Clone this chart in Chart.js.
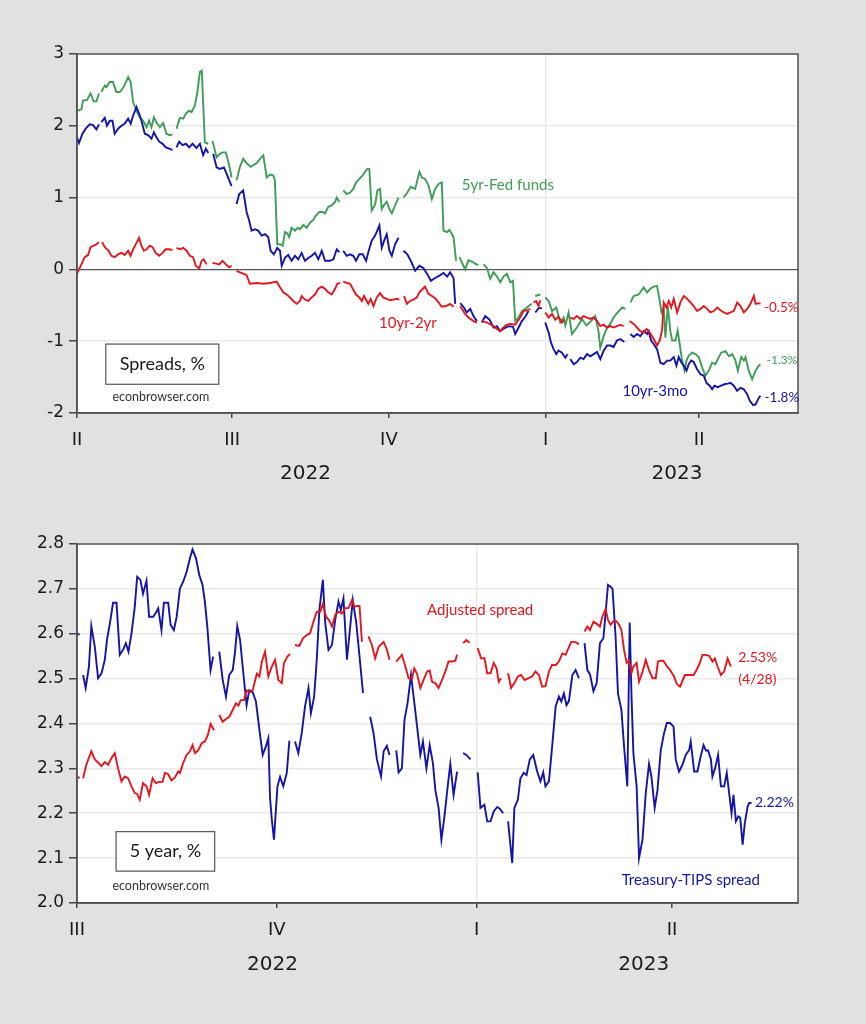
<!DOCTYPE html>
<html><head><meta charset="utf-8">
<script src="https://cdn.jsdelivr.net/npm/chart.js@4.4.0/dist/chart.umd.min.js"></script>
<style>
html,body{margin:0;padding:0;background:#e1e1e1;}
#wrap{position:relative;width:866px;height:1024px;overflow:hidden;background:#e1e1e1;}
canvas{position:absolute;left:0;}
#c1{top:0;} #c2{top:500px;}
</style></head><body>
<div id="wrap"><canvas id="c1" width="866" height="500"></canvas><canvas id="c2" width="866" height="524"></canvas></div>
<script>
// ---------- DATA ----------
// Top panel: x = days since 2022-04-01
const topQuarterDays = [0, 91, 183, 275, 365];
const topQuarterLabels = ['II', 'III', 'IV', 'I', 'II'];
const topYearBoundary = 275;
const topYearLabels = ['2022', '2023'];
const topYearCenters = [134, 352];
const topYTicks = [3, 2, 1, 0, -1, -2];

const spread10y2y = [[0,-0.06],[2.6,0.07],[4.5,0.17],[6.5,0.20],[7.9,0.31],[9.8,0.33],[11.4,0.35],[12.9,0.38],[13.8,null],[14.7,0.38],[16.3,0.31],[18.2,0.27],[20.2,0.19],[22.1,0.17],[24.1,0.21],[26.1,0.23],[28.0,0.20],[30.0,0.26],[31.4,0.19],[32.9,0.28],[34.9,0.37],[36.4,0.44],[37.8,0.33],[39.2,0.26],[40.8,0.28],[42.7,0.33],[44.3,0.31],[46.2,0.23],[48.2,0.19],[50.2,0.23],[52.1,0.28],[54.0,0.28],[56.0,0.27],[57.2,null],[58.4,0.30],[60.3,0.28],[62.3,0.30],[64.3,0.26],[66.2,0.19],[68.1,0.17],[69.7,0.05],[71.7,0.01],[73.1,0.12],[74.4,0.14],[76.0,0.07],[77.8,null],[79.5,0.09],[81.5,0.08],[83.4,0.07],[85.4,0.12],[87.3,0.07],[89.3,0.03],[90.7,0.05],[92.1,null],[93.6,-0.02],[95.6,-0.04],[97.5,-0.06],[99.5,-0.08],[101.4,-0.20],[105.4,-0.19],[109.3,-0.20],[113.2,-0.19],[117.1,-0.17],[119.1,-0.25],[121.0,-0.32],[123.0,-0.35],[124.9,-0.39],[126.9,-0.44],[128.9,-0.48],[130.8,-0.44],[131.8,-0.37],[133.7,-0.42],[135.7,-0.44],[137.7,-0.39],[139.6,-0.35],[141.6,-0.27],[143.6,-0.24],[145.5,-0.27],[147.4,-0.32],[149.4,-0.35],[151.4,-0.27],[152.7,-0.20],[154.3,-0.19],[155.2,null],[156.2,-0.17],[158.6,-0.19],[160.2,-0.20],[161.8,-0.27],[163.7,-0.35],[165.6,-0.39],[167.1,-0.44],[168.4,-0.37],[170.0,-0.44],[170.9,-0.48],[172.3,-0.41],[173.9,-0.51],[175.9,-0.39],[177.8,-0.33],[179.7,-0.39],[181.7,-0.41],[183.7,-0.43],[185.6,-0.42],[187.6,-0.41],[189.1,-0.42],[190.5,null],[191.9,-0.37],[193.5,-0.48],[195.4,-0.44],[197.4,-0.42],[199.4,-0.39],[200.9,-0.32],[202.9,-0.27],[204.2,-0.24],[206.2,-0.34],[208.2,-0.37],[210.1,-0.40],[212.1,-0.46],[214.0,-0.52],[216.6,-0.51],[218.9,-0.48],[220.9,-0.52],[222.8,null],[224.8,-0.51],[227.7,-0.62],[229.7,-0.67],[232.6,-0.72],[234.6,-0.74],[236,null],[237.5,-0.72],[240.5,-0.74],[244.4,-0.79],[246.4,-0.83],[248.3,-0.86],[250.2,-0.81],[252.2,-0.77],[254.2,-0.76],[257.1,-0.77],[260.0,-0.67],[262.0,-0.58],[264.0,-0.57],[265.9,-0.55],[266.9,null],[267.9,-0.46],[269.4,-0.44],[270.8,-0.51],[271.8,-0.43],[273.2,null],[274.7,-0.60],[276.7,-0.67],[278.7,-0.62],[280.6,-0.70],[282.5,-0.66],[284.5,-0.74],[285.9,-0.70],[287.6,null],[289.4,-0.67],[291.4,-0.69],[293.3,-0.65],[295.3,-0.69],[297.2,-0.65],[299.2,-0.67],[301.2,-0.69],[303.1,-0.67],[305.1,-0.72],[307.0,-0.79],[309.0,-0.77],[311.0,-0.81],[312.9,-0.79],[314.8,-0.81],[316.8,-0.79],[318.8,-0.77],[320.7,-0.79],[322.5,null],[324.2,-0.72],[326.6,-0.76],[328.6,-0.81],[330.5,-0.86],[332.5,-0.88],[334.1,-0.83],[335.4,-0.86],[337.4,-0.93],[338.8,-0.99],[340.3,-1.06],[341.9,-0.99],[343.3,-0.84],[344.2,-0.46],[345.8,-0.53],[347.2,-0.44],[348.6,-0.53],[350.1,-0.41],[352.1,-0.60],[354.0,-0.46],[356.0,-0.37],[358.0,-0.41],[359.9,-0.46],[361.8,-0.51],[363.8,-0.58],[365.8,-0.55],[367.7,-0.51],[369.7,-0.55],[371.6,-0.60],[373.6,-0.58],[375.6,-0.53],[377.5,-0.57],[379.5,-0.60],[381.5,-0.62],[383.4,-0.60],[385.3,-0.58],[387.3,-0.46],[389.3,-0.51],[391.2,-0.60],[393.2,-0.55],[395.1,-0.48],[397.1,-0.37],[398.1,-0.48],[400.0,-0.47],[401.0,-0.48]];

const spread10y3m = [[0,1.84],[1.2,1.76],[3.2,1.89],[5.1,1.96],[7.5,2.02],[9.4,2.01],[11.4,1.95],[12.9,2.02],[13.6,null],[14.3,2.05],[16.3,2.11],[17.6,2.00],[19.2,2.07],[20.8,2.07],[22.1,1.89],[24.1,1.96],[26.1,2.00],[28.0,2.03],[30.0,2.10],[31.5,2.03],[32.9,2.14],[34.9,2.26],[36.4,2.17],[37.8,2.07],[39.8,1.89],[41.7,1.87],[43.7,1.82],[45.1,1.91],[46.6,1.84],[48.2,1.78],[50.2,1.75],[52.1,1.70],[54.5,1.68],[56.0,1.66],[57.2,null],[58.4,1.70],[59.9,1.78],[61.9,1.73],[63.9,1.75],[65.8,1.70],[67.8,1.75],[70.1,1.69],[72.1,1.75],[74.0,1.59],[75.6,1.68],[77.0,1.62],[78.4,null],[79.9,1.61],[81.9,1.42],[83.8,1.40],[86.2,1.42],[87.8,1.33],[89.3,1.24],[90.7,1.16],[92.1,null],[93.6,0.91],[95.2,1.05],[97.5,1.10],[99.5,0.80],[101.0,0.68],[102.4,0.54],[104.4,0.56],[106.3,0.54],[108.3,0.47],[110.3,0.49],[112.2,0.45],[113.6,0.26],[115.5,0.21],[117.5,0.30],[119.1,0.26],[120.1,0.05],[122.0,0.16],[123.9,0.20],[125.9,0.12],[127.9,0.19],[129.8,0.14],[131.8,0.23],[133.7,0.12],[135.7,0.16],[137.7,0.19],[139.6,0.23],[141.6,0.14],[143.6,0.26],[145.5,0.12],[148.4,0.12],[150.4,0.14],[152.4,0.28],[153.9,0.24],[155,null],[156.2,0.26],[158.2,0.19],[160.2,0.21],[162.1,0.19],[163.7,0.12],[165.6,0.21],[167.6,0.21],[169.6,0.12],[170.9,0.24],[172.9,0.40],[174.9,0.47],[177.4,0.61],[178.8,0.30],[180.2,0.40],[181.7,0.49],[183.3,0.26],[184.7,0.19],[186.6,0.35],[188.6,0.44],[190,null],[191.5,0.26],[193.8,0.21],[195.8,0.12],[198.4,-0.02],[200.9,0.05],[203.2,0.02],[205.6,-0.07],[207.6,-0.16],[210.1,-0.12],[213.1,-0.08],[215.0,-0.05],[217.2,-0.10],[218.9,-0.04],[220.9,-0.12],[221.9,-0.48],[223.4,null],[224.8,-0.47],[226.7,-0.52],[228.7,-0.60],[230.7,-0.55],[232.6,-0.65],[234.6,-0.72],[236,null],[237.5,-0.74],[239.5,-0.65],[242.0,-0.70],[244.4,-0.81],[246.4,-0.79],[248.3,-0.86],[250.6,-0.82],[253.2,-0.79],[255.8,-0.80],[257.1,-0.90],[259.1,-0.81],[261.0,-0.72],[263.0,-0.66],[264.9,-0.58],[267,null],[268.9,-0.60],[270.8,-0.54],[272.8,-0.54],[273.8,null],[274.7,-0.74],[276.7,-0.88],[278.1,-1.02],[279.6,-1.11],[281.2,-1.18],[282.5,-1.13],[284.5,-1.16],[286.5,-1.23],[287.8,-1.18],[288.6,null],[289.4,-1.25],[291.4,-1.32],[293.3,-1.29],[295.3,-1.23],[297.2,-1.25],[299.2,-1.18],[301.2,-1.21],[303.1,-1.18],[305.1,-1.15],[307.0,-1.25],[309.0,-1.13],[311.0,-1.06],[312.9,-1.06],[314.8,-1.08],[316.8,-0.99],[318.8,-0.97],[321.1,-1.01],[323,null],[324.7,-0.90],[326.6,-0.94],[328.6,-0.90],[330.5,-0.93],[332.5,-0.86],[334.5,-0.90],[335.4,-0.86],[336.8,-0.99],[338.3,-1.04],[340.3,-1.11],[342.3,-1.30],[344.2,-1.32],[346.2,-1.27],[348.1,-1.27],[350.1,-1.22],[351.7,-1.34],[353.0,-1.22],[354.4,-1.29],[356.0,-1.34],[357.6,-1.41],[358.9,-1.32],[360.3,-1.27],[361.8,-1.29],[363.8,-1.39],[365.8,-1.46],[367.7,-1.48],[369.3,-1.58],[371.2,-1.62],[372.6,-1.67],[374.0,-1.62],[375.9,-1.64],[377.9,-1.62],[379.9,-1.60],[381.8,-1.59],[383.4,-1.58],[385.3,-1.62],[387.3,-1.69],[389.3,-1.65],[391.2,-1.67],[393.2,-1.74],[394.7,-1.83],[396.7,-1.89],[398.1,-1.88],[400.0,-1.79],[401.0,-1.76]];

const spread5yFedFunds = [[0,2.21],[2.6,2.23],[3.5,2.35],[5.9,2.36],[7.9,2.45],[9.8,2.34],[11.4,2.34],[12.9,2.45],[13.6,null],[14.3,2.47],[16.3,2.56],[17.3,2.54],[19.2,2.61],[21.1,2.61],[23.1,2.47],[25.1,2.47],[27.4,2.54],[30.0,2.68],[31.5,2.61],[32.9,2.33],[34.9,2.21],[36.8,2.12],[38.8,2.07],[40.8,1.98],[42.3,2.07],[43.7,1.98],[45.1,2.12],[46.6,2.05],[48.6,1.98],[50.5,2.04],[52.5,1.89],[54.5,1.87],[56.0,1.88],[57.2,null],[58.4,1.96],[60.3,2.11],[62.3,2.10],[63.9,2.17],[65.8,2.21],[67.2,2.19],[69.1,2.28],[70.5,2.45],[72.1,2.75],[73.2,2.77],[75.0,1.77],[77.0,1.75],[78.2,null],[79.5,1.79],[81.9,1.56],[83.8,1.61],[85.4,1.63],[87.3,1.63],[89.3,1.45],[90.7,1.28],[92.1,null],[93.6,1.24],[95.6,1.43],[97.5,1.54],[99.5,1.48],[101.9,1.43],[103.4,1.45],[105.4,1.48],[107.3,1.54],[109.3,1.59],[111.3,1.28],[113.2,1.32],[115.1,1.31],[116.1,1.24],[117.5,0.35],[119.1,0.35],[120.7,0.33],[122.0,0.52],[123.4,0.50],[124.5,0.45],[125.9,0.58],[127.9,0.54],[129.5,0.58],[130.8,0.56],[132.8,0.62],[134.7,0.58],[136.7,0.65],[138.6,0.69],[140.2,0.75],[142.2,0.80],[144.1,0.80],[145.5,0.78],[147.4,0.87],[149.4,0.89],[151.4,0.94],[152.4,1.00],[153.9,0.94],[155,null],[156.2,1.10],[158.2,1.05],[160.2,1.07],[162.1,1.12],[163.7,1.21],[165.6,1.26],[167.6,1.31],[169.0,1.36],[170.3,1.40],[171.5,1.40],[172.9,0.82],[174.9,0.90],[176.2,1.10],[177.8,1.12],[178.8,0.84],[180.2,0.90],[181.7,0.94],[183.3,0.84],[184.7,0.78],[186.6,0.89],[188.6,1.00],[190,null],[191.5,1.00],[193.8,1.07],[195.8,1.15],[198.4,1.12],[200.9,1.36],[202.3,1.28],[204.2,1.26],[206.2,1.17],[208.2,0.98],[210.1,1.12],[212.1,1.19],[214.0,1.21],[215.0,0.54],[217.0,0.52],[218.5,0.55],[220.9,0.45],[222.4,0.12],[223.4,null],[224.4,0.17],[227.7,0.00],[229.7,0.13],[231.7,0.11],[233.6,0.08],[235.5,0.06],[237,null],[238.5,0.07],[240.5,0.02],[242.4,-0.13],[244.4,-0.04],[246.4,-0.10],[248.3,-0.18],[250.2,-0.10],[252.2,-0.06],[254.2,-0.18],[255.8,-0.16],[257.1,-0.72],[259.1,-0.67],[261.0,-0.58],[263.0,-0.55],[265.5,-0.50],[266.9,-0.48],[268,null],[268.9,-0.37],[271.8,-0.35],[273,null],[274.7,-0.39],[276.7,-0.44],[278.7,-0.58],[281.2,-0.53],[283.5,-0.74],[285.5,-0.67],[286.5,-0.78],[288.4,-0.60],[290.4,-0.90],[293.3,-0.81],[296.3,-0.69],[298.8,-0.78],[301.2,-0.73],[304.1,-0.65],[306.0,-0.87],[307.0,-1.09],[309.0,-0.93],[311.0,-0.81],[312.9,-0.76],[314.8,-0.67],[317.2,-0.60],[319.8,-0.53],[321.7,-0.55],[323,null],[324.7,-0.46],[326.6,-0.37],[329.5,-0.35],[332.5,-0.25],[334.5,-0.32],[336.4,-0.27],[338.3,-0.24],[340.3,-0.23],[341.9,-0.44],[342.9,-0.60],[344.2,-0.53],[345.2,-0.95],[346.6,-0.51],[348.1,-0.86],[349.2,-0.99],[351.1,-0.99],[352.4,-0.85],[353.6,-1.04],[355.0,-1.27],[356.4,-1.41],[357.6,-1.27],[358.9,-1.20],[360.9,-1.16],[362.8,-1.18],[364.8,-1.22],[366.8,-1.37],[368.7,-1.48],[370.7,-1.41],[372.6,-1.30],[374.6,-1.32],[375.9,-1.25],[377.9,-1.16],[380.5,-1.14],[382.4,-1.21],[384.4,-1.18],[386.3,-1.27],[387.7,-1.41],[389.7,-1.22],[391.2,-1.27],[392.2,-1.22],[394.1,-1.41],[396.1,-1.53],[398.1,-1.41],[400.0,-1.34],[401.0,-1.32]];

// Bottom panel: x = days since 2022-07-01
const botQuarterDays = [0, 92, 184, 274];
const botQuarterLabels = ['III', 'IV', 'I', 'II'];
const botYearBoundary = 184;
const botYearLabels = ['2022', '2023'];
const botYearCenters = [90, 261];
const botYTicks = [2.8, 2.7, 2.6, 2.5, 2.4, 2.3, 2.2, 2.1, 2.0];

const adjustedSpread = [[0,2.282],[1.2,2.278],[2,null],[2.8,2.278],[4.3,2.308],[6.6,2.338],[8.2,2.32],[9.7,2.313],[11.3,2.305],[12.8,2.314],[14.3,2.308],[15.9,2.323],[17.4,2.334],[18.9,2.30],[20.5,2.271],[22.0,2.282],[23.5,2.278],[25.1,2.26],[26.6,2.245],[27.7,2.243],[28.9,2.23],[30.4,2.267],[32.0,2.26],[33.2,2.241],[34.8,2.278],[36.3,2.267],[37.8,2.27],[39.4,2.27],[40.5,2.29],[42.0,2.287],[43.5,2.273],[45.1,2.28],[46.6,2.293],[47.4,2.29],[48.9,2.312],[50.5,2.33],[52.0,2.338],[53.2,2.352],[54.3,2.334],[55.8,2.34],[57.4,2.356],[58.9,2.36],[60.3,2.375],[61.5,2.399],[63.1,2.385],[64.3,null],[65.5,2.419],[67.1,2.404],[68.6,2.41],[70.1,2.415],[71.7,2.43],[73.2,2.445],[74.3,2.44],[75.4,2.452],[76.9,2.452],[78.1,2.474],[79.7,2.47],[80.9,2.474],[82.8,2.511],[84.0,2.505],[85.1,2.537],[86.6,2.56],[88.1,2.505],[89.7,2.527],[91.2,2.542],[92.7,2.497],[94.3,2.49],[95.3,2.535],[96.9,2.549],[98.1,2.555],[99.2,null],[100.4,2.575],[102.4,2.573],[104.0,2.59],[105.8,2.597],[107.3,2.601],[108.9,2.627],[110.4,2.649],[112.0,2.649],[113.2,2.666],[114.7,2.638],[116.1,2.63],[117.4,2.616],[118.9,2.642],[120.4,2.649],[122.0,2.645],[123.5,2.657],[125.0,2.657],[126.6,2.675],[127.6,2.66],[129.0,2.662],[130.1,2.662],[131.2,2.582],[132.7,null],[134.2,2.594],[135.8,2.575],[137.3,2.545],[138.9,2.571],[141.2,2.582],[142.7,2.565],[143.9,2.542],[145.5,null],[147.0,2.538],[149.6,2.553],[151.2,2.527],[152.7,2.501],[154.3,2.501],[155.3,2.523],[156.6,2.51],[158.1,2.479],[159.6,2.497],[161.2,2.516],[162.4,2.518],[163.5,2.493],[165.0,2.49],[166.5,2.479],[168.1,2.497],[169.6,2.516],[171.1,2.538],[172.7,2.538],[174.2,2.54],[175.0,2.553],[176.4,null],[177.8,2.579],[179.3,2.586],[180.8,2.58],[182.7,null],[184.5,2.568],[186.1,2.545],[187.6,2.546],[188.9,2.512],[190.4,2.512],[191.9,2.535],[193.2,2.523],[194.2,2.493],[195.3,2.501],[196.9,null],[198.5,2.512],[199.9,2.479],[201.4,2.49],[203.0,2.505],[204.5,2.508],[206.1,2.497],[208.0,2.501],[209.6,2.505],[211.1,2.516],[212.7,2.508],[214.2,2.482],[215.7,2.483],[217.3,2.516],[218.8,2.531],[220.4,2.53],[221.9,2.538],[223.5,2.556],[225.0,2.553],[226.5,2.57],[227.6,2.582],[229.1,2.582],[230.4,2.579],[231.1,2.576],[232.4,null],[233.7,2.605],[235.0,2.616],[236.2,2.608],[237.8,2.627],[239.3,2.622],[240.8,2.616],[241.9,2.638],[243.4,2.655],[244.5,2.631],[245.7,2.62],[247.0,2.628],[248.4,2.628],[249.6,2.62],[250.7,2.608],[251.9,2.564],[253.1,2.535],[254.2,2.54],[255.3,2.512],[256.2,2.527],[257.7,2.535],[258.8,2.493],[260.4,2.515],[261.9,2.542],[263.4,2.519],[265.0,2.501],[266.5,2.501],[267.5,2.538],[268.8,2.54],[270.0,2.54],[271.6,2.528],[273.1,2.519],[274.9,2.505],[276.2,2.488],[277.7,2.482],[279.9,2.508],[281.9,2.508],[283.9,2.508],[284.9,2.516],[286.5,2.531],[288.0,2.553],[289.6,2.553],[291.1,2.551],[292.6,2.538],[293.7,2.545],[295.0,2.527],[296.5,2.508],[298.0,2.516],[299.6,2.545],[301.1,2.527]];

const treasuryTipsSpread = [[0,2.60],[1.2,2.598],[2,null],[2.8,2.508],[4.0,2.479],[5.5,2.527],[6.6,2.617],[8.2,2.571],[9.7,2.501],[11.3,2.512],[12.8,2.542],[13.8,2.586],[15.4,2.631],[16.6,2.669],[18.2,2.669],[19.7,2.553],[21.2,2.564],[22.5,2.579],[23.7,2.56],[25.1,2.601],[26.6,2.66],[27.7,2.727],[29.2,2.72],[30.4,2.689],[32.0,2.718],[33.2,2.638],[35.1,2.638],[36.3,2.647],[37.4,2.657],[38.9,2.608],[40.0,2.669],[42.0,2.669],[43.1,2.62],[44.6,2.608],[45.9,2.638],[47.4,2.701],[48.9,2.716],[50.5,2.738],[52.0,2.768],[53.2,2.788],[54.8,2.768],[56.3,2.731],[57.8,2.709],[58.9,2.671],[60.0,2.616],[61.5,2.519],[62.7,2.549],[64,null],[65.5,2.56],[67.1,2.497],[68.6,2.46],[70.1,2.508],[71.7,2.519],[72.7,2.556],[73.8,2.617],[75.1,2.586],[76.6,2.512],[78.1,2.441],[79.3,2.474],[80.9,2.47],[82.4,2.449],[84.0,2.386],[85.5,2.33],[87.0,2.349],[88.1,2.367],[88.9,2.234],[89.7,2.186],[90.7,2.141],[92.3,2.26],[93.5,2.281],[95.0,2.26],[96.6,2.29],[97.8,2.362],[99,null],[100.4,2.36],[101.9,2.334],[103.5,2.379],[105.0,2.438],[106.6,2.479],[107.7,2.423],[109.2,2.46],[110.4,2.542],[111.6,2.653],[113.2,2.72],[114.3,2.624],[115.8,2.564],[117.4,2.575],[118.9,2.631],[120.4,2.672],[121.5,2.653],[122.7,2.679],[124.3,2.542],[125.5,2.601],[127.0,2.675],[128.6,2.624],[130.1,2.549],[131.7,2.468],[133.3,null],[135.0,2.415],[136.5,2.38],[138.1,2.32],[140.0,2.282],[141.2,2.338],[142.7,2.35],[143.9,2.33],[145.5,null],[147.0,2.34],[148.1,2.291],[149.6,2.30],[150.8,2.408],[152.2,2.445],[153.8,2.508],[155.0,2.46],[156.6,2.393],[158.1,2.33],[159.3,2.36],[160.9,2.30],[162.4,2.352],[163.9,2.311],[165.0,2.252],[166.5,2.212],[167.8,2.141],[169.2,2.193],[170.7,2.26],[171.9,2.31],[173.4,2.241],[175.0,2.293],[176.4,null],[177.8,2.334],[179.3,2.33],[181.2,2.32],[182.8,null],[184.5,2.291],[185.8,2.212],[187.6,2.219],[188.9,2.182],[190.4,2.182],[191.9,2.204],[193.5,2.214],[194.7,2.21],[196.2,2.20],[197.3,null],[198.5,2.182],[200.4,2.089],[201.4,2.212],[203.0,2.23],[204.2,2.278],[205.7,2.29],[207.0,2.285],[208.5,2.32],[210.1,2.33],[211.9,2.293],[213.4,2.271],[214.7,2.291],[215.7,2.26],[217.3,2.271],[218.8,2.349],[220.4,2.438],[221.9,2.46],[223.0,2.449],[224.2,2.467],[225.4,2.441],[226.5,2.45],[228.1,2.508],[229.6,2.519],[231.1,2.501],[232.4,null],[233.7,2.579],[235.0,2.519],[236.2,2.51],[237.8,2.472],[239.3,2.49],[240.8,2.579],[242.4,2.59],[243.4,2.646],[244.5,2.709],[245.7,2.705],[246.6,2.70],[248.0,2.594],[249.1,2.467],[250.7,2.43],[251.9,2.349],[253.4,2.26],[254.5,2.625],[255.3,2.467],[256.2,2.334],[257.7,2.26],[258.8,2.10],[260.4,2.141],[261.9,2.245],[263.4,2.31],[264.5,2.282],[266.0,2.212],[267.3,2.252],[268.8,2.34],[270.3,2.378],[271.6,2.401],[273.1,2.401],[274.7,2.393],[275.7,2.32],[277.2,2.293],[278.8,2.308],[280.3,2.33],[281.9,2.341],[282.6,2.36],[284.2,2.293],[285.7,2.293],[287.2,2.327],[288.5,2.352],[289.6,2.34],[290.6,2.34],[291.9,2.32],[292.6,2.282],[293.8,2.30],[295.2,2.33],[296.5,2.26],[298.0,2.26],[299.2,2.29],[300.3,2.245],[301.4,2.20],[302.3,2.241],[303.4,2.182],[304.5,2.193],[305.4,2.19],[306.5,2.13],[307.5,2.178],[308.8,2.215],[309.5,2.223],[310.6,2.223]];

// ---------- STYLE ----------
const RED = '#e3161d', BLUE = '#1414a6', GREEN = '#3e9c57';
const TXT = '#1a1a1a';
const GRID = '#e9e9e9';
const FRAME = '#505050';

function pts(arr) { return arr.map(p => ({ x: p[0], y: p[1] })); }

function panelPlugin(cfg) {
  return {
    id: 'panel_' + cfg.name,
    beforeDraw(chart) {
      const { ctx, chartArea: a } = chart;
      ctx.save();
      ctx.fillStyle = '#ffffff';
      ctx.fillRect(a.left, a.top, a.right - a.left, a.bottom - a.top);
      ctx.restore();
    },
    afterDraw(chart) {
      const { ctx, chartArea: a, scales } = chart;
      const x = scales.x, y = scales.y;
      ctx.save();
      ctx.strokeStyle = FRAME; ctx.lineWidth = 1.5;
      ctx.strokeRect(a.left, a.top, a.right - a.left, a.bottom - a.top);
      ctx.textBaseline = 'middle';
      cfg.labels.forEach(l => {
        ctx.font = l.font; ctx.fillStyle = l.color; ctx.textAlign = l.align || 'left';
        ctx.fillText(l.text, x.getPixelForValue(l.x), y.getPixelForValue(l.y));
      });
      const b = cfg.box;
      const bx0 = x.getPixelForValue(b.x0), bx1 = x.getPixelForValue(b.x1);
      const by0 = y.getPixelForValue(b.y0), by1 = y.getPixelForValue(b.y1);
      ctx.fillStyle = '#fff'; ctx.fillRect(bx0, by0, bx1 - bx0, by1 - by0);
      ctx.strokeStyle = '#555'; ctx.lineWidth = 1.2; ctx.strokeRect(bx0, by0, bx1 - bx0, by1 - by0);
      ctx.font = '18px Lato'; ctx.fillStyle = TXT; ctx.textAlign = 'center';
      ctx.fillText(b.text, (bx0 + bx1) / 2, (by0 + by1) / 2);
      ctx.font = '12.5px Lato'; ctx.fillStyle = '#333';
      ctx.fillText('econbrowser.com', x.getPixelForValue(cfg.credit.x), y.getPixelForValue(cfg.credit.y));
      ctx.font = '20px "DejaVu Sans"'; ctx.fillStyle = TXT; ctx.textAlign = 'center';
      cfg.years.forEach((t, i) => ctx.fillText(t, x.getPixelForValue(cfg.yearCenters[i]), a.bottom + cfg.yearOffset));
      ctx.restore();
    }
  };
}

function makeChart(canvasId, o) {
  return new Chart(document.getElementById(canvasId), {
    type: 'line',
    data: { datasets: o.datasets.map(d => ({
      data: pts(d.data), borderColor: d.color, borderWidth: 1.9, pointRadius: 0,
      tension: 0, spanGaps: false, fill: false
    })) },
    options: {
      responsive: false, animation: false, parsing: true,
      layout: { padding: { left: 0, top: o.padTop, right: 68, bottom: 0 } },
      plugins: { legend: { display: false }, tooltip: { enabled: false } },
      scales: {
        x: {
          type: 'linear', min: o.xMin, max: o.xMax,
          afterBuildTicks: s => { s.ticks = o.qDays.map(v => ({ value: v })); },
          afterFit: s => { s.height = o.xHeight; },
          ticks: { autoSkip: false, maxRotation: 0, padding: 12, color: TXT,
            font: { family: 'DejaVu Sans', size: 18 },
            callback: (v, i) => o.qLabels[i] },
          grid: { color: c => (c.tick && c.tick.value === o.yearBoundary) ? GRID : 'rgba(0,0,0,0)',
            lineWidth: 1.5, tickColor: '#444', tickLength: 5, drawTicks: true },
          border: { display: true, color: FRAME, width: 1.5 }
        },
        y: {
          type: 'linear', min: o.yMin, max: o.yMax,
          afterBuildTicks: s => { s.ticks = o.yTicks.map(v => ({ value: v })); },
          afterFit: s => { s.width = 77; },
          ticks: { color: TXT, padding: 5, font: { family: 'DejaVu Sans', size: 17 },
            callback: v => o.yFmt(v) },
          grid: { color: c => (c.tick && o.zeroLine && c.tick.value === 0) ? '#555' : GRID,
            lineWidth: c => (c.tick && o.zeroLine && c.tick.value === 0) ? 1.3 : 1.5,
            tickColor: '#444', tickLength: 8 },
          border: { display: true, color: FRAME, width: 1.5 }
        }
      }
    },
    plugins: [panelPlugin(o.panel)]
  });
}

makeChart('c1', {
  datasets: [
    { data: spread10y2y, color: RED },
    { data: spread10y3m, color: BLUE },
    { data: spread5yFedFunds, color: GREEN }
  ],
  padTop: 54, xHeight: 87, xMin: 0, xMax: 423, yMin: -2, yMax: 3,
  qDays: topQuarterDays, qLabels: topQuarterLabels, yearBoundary: topYearBoundary,
  yTicks: topYTicks, yFmt: v => String(v), zeroLine: true,
  panel: {
    name: 'top',
    labels: [
      { text: '5yr-Fed funds', x: 225.8, y: 1.18, color: GREEN, font: '15px Lato' },
      { text: '10yr-2yr', x: 177.2, y: -0.75, color: RED, font: '15px Lato' },
      { text: '10yr-3mo', x: 320, y: -1.70, color: BLUE, font: '15px Lato' },
      { text: '-0.5%', x: 403, y: -0.53, color: RED, font: '13.5px Lato' },
      { text: '-1.3%', x: 404.5, y: -1.27, color: GREEN, font: '12px Lato' },
      { text: '-1.8%', x: 403.4, y: -1.79, color: BLUE, font: '13.5px Lato' }
    ],
    box: { text: 'Spreads, %', x0: 16.9, x1: 83.2, y0: -1.04, y1: -1.60 },
    credit: { x: 49.2, y: -1.775 },
    years: topYearLabels, yearCenters: topYearCenters, yearOffset: 61
  }
});

makeChart('c2', {
  datasets: [
    { data: adjustedSpread, color: RED },
    { data: treasuryTipsSpread, color: BLUE }
  ],
  padTop: 44, xHeight: 121, xMin: 0, xMax: 332, yMin: 2.0, yMax: 2.8,
  qDays: botQuarterDays, qLabels: botQuarterLabels, yearBoundary: botYearBoundary,
  yTicks: botYTicks, yFmt: v => v.toFixed(1), zeroLine: false,
  panel: {
    name: 'bottom',
    labels: [
      { text: 'Adjusted spread', x: 161.2, y: 2.653, color: RED, font: '15px Lato' },
      { text: '2.53%', x: 304.5, y: 2.547, color: RED, font: '14px Lato' },
      { text: '(4/28)', x: 304.5, y: 2.497, color: RED, font: '14px Lato' },
      { text: '2.22%', x: 312.2, y: 2.224, color: BLUE, font: '14px Lato' },
      { text: 'Treasury-TIPS spread', x: 250.8, y: 2.05, color: BLUE, font: '15px Lato' }
    ],
    box: { text: '5 year, %', x0: 18.0, x1: 63.4, y0: 2.159, y1: 2.071 },
    credit: { x: 38.6, y: 2.0385 },
    years: botYearLabels, yearCenters: botYearCenters, yearOffset: 62
  }
});
</script>
</body></html>
